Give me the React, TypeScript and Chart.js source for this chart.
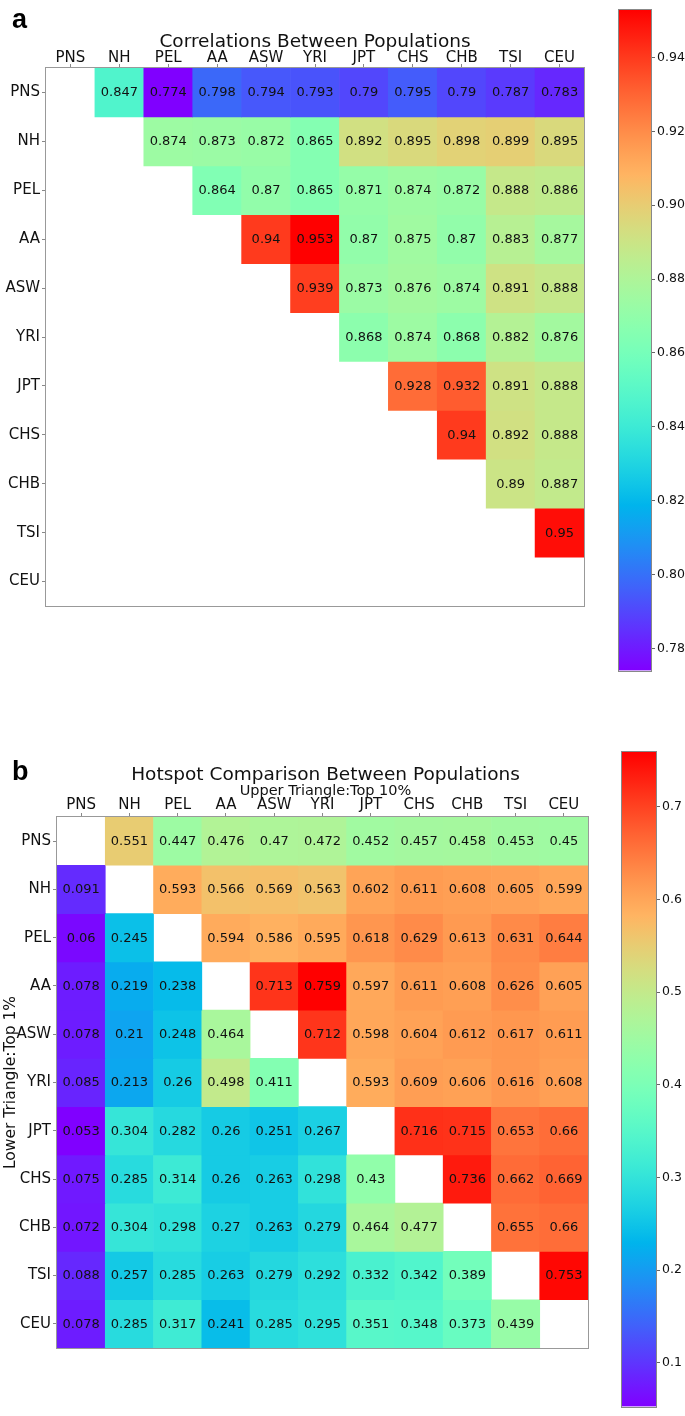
import React, { useEffect, useRef } from "react";
import { Chart, registerables } from "chart.js";
Chart.register(...registerables);

// ---------- data ----------
const populations = ["PNS", "NH", "PEL", "AA", "ASW", "YRI", "JPT", "CHS", "CHB", "TSI", "CEU"];

// Panel a: correlations (upper triangle only)
const corrPNS = [null, 0.847, 0.774, 0.798, 0.794, 0.793, 0.79, 0.795, 0.79, 0.787, 0.783];
const corrNH = [null, null, 0.874, 0.873, 0.872, 0.865, 0.892, 0.895, 0.898, 0.899, 0.895];
const corrPEL = [null, null, null, 0.864, 0.87, 0.865, 0.871, 0.874, 0.872, 0.888, 0.886];
const corrAA = [null, null, null, null, 0.94, 0.953, 0.87, 0.875, 0.87, 0.883, 0.877];
const corrASW = [null, null, null, null, null, 0.939, 0.873, 0.876, 0.874, 0.891, 0.888];
const corrYRI = [null, null, null, null, null, null, 0.868, 0.874, 0.868, 0.882, 0.876];
const corrJPT = [null, null, null, null, null, null, null, 0.928, 0.932, 0.891, 0.888];
const corrCHS = [null, null, null, null, null, null, null, null, 0.94, 0.892, 0.888];
const corrCHB = [null, null, null, null, null, null, null, null, null, 0.89, 0.887];
const corrTSI = [null, null, null, null, null, null, null, null, null, null, 0.95];
const corrCEU = [null, null, null, null, null, null, null, null, null, null, null];
const corrMatrix = [corrPNS, corrNH, corrPEL, corrAA, corrASW, corrYRI, corrJPT, corrCHS, corrCHB, corrTSI, corrCEU];

// Panel b: hotspot comparison (upper: top 10%, lower: top 1%)
const hotPNS = [null, 0.551, 0.447, 0.476, 0.47, 0.472, 0.452, 0.457, 0.458, 0.453, 0.45];
const hotNH = [0.091, null, 0.593, 0.566, 0.569, 0.563, 0.602, 0.611, 0.608, 0.605, 0.599];
const hotPEL = [0.06, 0.245, null, 0.594, 0.586, 0.595, 0.618, 0.629, 0.613, 0.631, 0.644];
const hotAA = [0.078, 0.219, 0.238, null, 0.713, 0.759, 0.597, 0.611, 0.608, 0.626, 0.605];
const hotASW = [0.078, 0.21, 0.248, 0.464, null, 0.712, 0.598, 0.604, 0.612, 0.617, 0.611];
const hotYRI = [0.085, 0.213, 0.26, 0.498, 0.411, null, 0.593, 0.609, 0.606, 0.616, 0.608];
const hotJPT = [0.053, 0.304, 0.282, 0.26, 0.251, 0.267, null, 0.716, 0.715, 0.653, 0.66];
const hotCHS = [0.075, 0.285, 0.314, 0.26, 0.263, 0.298, 0.43, null, 0.736, 0.662, 0.669];
const hotCHB = [0.072, 0.304, 0.298, 0.27, 0.263, 0.279, 0.464, 0.477, null, 0.655, 0.66];
const hotTSI = [0.088, 0.257, 0.285, 0.263, 0.279, 0.292, 0.332, 0.342, 0.389, null, 0.753];
const hotCEU = [0.078, 0.285, 0.317, 0.241, 0.285, 0.295, 0.351, 0.348, 0.373, 0.439, null];
const hotMatrix = [hotPNS, hotNH, hotPEL, hotAA, hotASW, hotYRI, hotJPT, hotCHS, hotCHB, hotTSI, hotCEU];

const cbTicksA = [0.78, 0.8, 0.82, 0.84, 0.86, 0.88, 0.9, 0.92, 0.94];
const cbTicksB = [0.1, 0.2, 0.3, 0.4, 0.5, 0.6, 0.7];

// ---------- helpers ----------
const FONT = '"DejaVu Sans", sans-serif';

function rainbow(t: number): string {
  const x = Math.max(0, Math.min(1, t));
  const r = Math.min(1, Math.abs(2 * x - 0.5));
  const g = Math.sin(Math.PI * x);
  const b = Math.cos((Math.PI * x) / 2);
  return `rgb(${Math.round(r * 255)},${Math.round(g * 255)},${Math.round(b * 255)})`;
}

function range(matrix: (number | null)[][]) {
  const flat = matrix.flat().filter((v) => v != null) as number[];
  return [Math.min(...flat), Math.max(...flat)];
}

type HeatProps = {
  matrix: (number | null)[][];
  letter: string;
  title: string;
  subtitle?: string;
  yTitle?: string;
  left: number;
  top: number;
  width: number;
  height: number;
  pad: { left: number; top: number; right: number; bottom: number };
  yW: number;
  xH: number;
  xPad: number;
  titleOffset: number;
  subOffset?: number;
  letterY: number;
  titleShift: number;
};

function Heatmap(p: HeatProps) {
  const ref = useRef<HTMLCanvasElement>(null);
  useEffect(() => {
    const [vmin, vmax] = range(p.matrix);
    const n = populations.length;
    const datasets = p.matrix.map((row, r) => ({
      label: populations[r],
      data: row.map((v) => (v == null ? null : [r, r + 1])),
      values: row,
      backgroundColor: row.map((v) => (v == null ? "rgba(0,0,0,0)" : rainbow((v - vmin) / (vmax - vmin)))),
      borderWidth: 0,
      barPercentage: 1,
      categoryPercentage: 1,
      grouped: false,
    }));
    const overlay = {
      id: "overlay",
      afterDatasetsDraw(chart: any) {
        const ctx = chart.ctx;
        ctx.save();
        ctx.font = `13px ${FONT}`;
        ctx.textAlign = "center";
        ctx.textBaseline = "middle";
        ctx.fillStyle = "#111";
        chart.data.datasets.forEach((ds: any, di: number) => {
          const meta = chart.getDatasetMeta(di);
          meta.data.forEach((el: any, i: number) => {
            const v = ds.values[i];
            if (v == null) return;
            const { x, y, base } = el.getProps(["x", "y", "base"], true);
            ctx.fillText(String(v), x, (y + base) / 2 + 0.5);
          });
        });
        const ca = chart.chartArea;
        ctx.strokeStyle = "#999";
        ctx.lineWidth = 1;
        ctx.strokeRect(Math.round(ca.left) - 0.5, Math.round(ca.top) - 0.5, Math.round(ca.right - ca.left) + 1, Math.round(ca.bottom - ca.top) + 1);
        const cx = (ca.left + ca.right) / 2 + p.titleShift;
        ctx.fillStyle = "#111";
        ctx.textBaseline = "alphabetic";
        ctx.font = `18.5px ${FONT}`;
        ctx.fillText(p.title, cx, ca.top - p.titleOffset);
        if (p.subtitle) {
          ctx.font = `14.5px ${FONT}`;
          ctx.fillText(p.subtitle, cx, ca.top - (p.subOffset || 0));
        }
        ctx.textAlign = "left";
        ctx.fillStyle = "#000";
        ctx.font = `bold 27px "Liberation Sans", Arial, sans-serif`;
        ctx.fillText(p.letter, 12, p.letterY);
        ctx.restore();
      },
    };
    const chart = new Chart(ref.current!, {
      type: "bar",
      data: { labels: populations, datasets: datasets as any },
      plugins: [overlay],
      options: {
        animation: false,
        responsive: false,
        devicePixelRatio: 1,
        layout: { padding: p.pad },
        plugins: { legend: { display: false }, tooltip: { enabled: false } },
        scales: {
          x: {
            type: "category",
            position: "top",
            offset: true,
            grid: { offset: false, drawOnChartArea: false, drawTicks: true, tickLength: 4, color: "#888" },
            border: { display: false },
            ticks: { font: { family: FONT, size: 15 }, color: "#111", maxRotation: 0, autoSkip: false, padding: p.xPad },
            afterFit: (s: any) => {
              s.height = p.xH;
            },
          },
          y: {
            type: "linear",
            min: 0,
            max: n,
            reverse: true,
            afterBuildTicks: (s: any) => {
              s.ticks = populations.map((_, i) => ({ value: i + 0.5 }));
            },
            ticks: {
              font: { family: FONT, size: 15 },
              color: "#111",
              autoSkip: false,
              padding: 2,
              callback: (_v: any, i: number) => populations[i],
            },
            grid: { drawOnChartArea: false, drawTicks: true, tickLength: 4, color: "#888" },
            border: { display: false },
            title: p.yTitle
              ? { display: true, text: p.yTitle, font: { family: FONT, size: 15.5 }, color: "#111", padding: { top: 2, bottom: 0 } }
              : { display: false },
            afterFit: (s: any) => {
              s.width = p.yW;
            },
          },
        },
      } as any,
    });
    return () => chart.destroy();
  }, []);
  return (
    <canvas
      ref={ref}
      width={p.width}
      height={p.height}
      style={{ position: "absolute", left: p.left, top: p.top, width: p.width, height: p.height }}
    />
  );
}

type CbProps = {
  matrix: (number | null)[][];
  ticks: number[];
  decimals: number;
  left: number;
  top: number;
  width: number;
  height: number;
  pad: { left: number; top: number; right: number; bottom: number };
  axisW: number;
};

function Colorbar(p: CbProps) {
  const ref = useRef<HTMLCanvasElement>(null);
  useEffect(() => {
    const [vmin, vmax] = range(p.matrix);
    const outline = {
      id: "outline",
      afterDatasetsDraw(chart: any) {
        const ca = chart.chartArea;
        const ctx = chart.ctx;
        ctx.save();
        ctx.strokeStyle = "#888";
        ctx.lineWidth = 1;
        ctx.strokeRect(Math.round(ca.left) - 0.5, Math.round(ca.top) - 0.5, Math.round(ca.right - ca.left) + 1, Math.round(ca.bottom - ca.top) + 1);
        ctx.restore();
      },
    };
    const chart = new Chart(ref.current!, {
      type: "bar",
      data: {
        labels: [""],
        datasets: [
          {
            data: [[vmin, vmax]],
            borderWidth: 0,
            barPercentage: 1,
            categoryPercentage: 1,
            backgroundColor: (c: any) => {
              const ch = c.chart;
              const ys = ch.scales.y;
              if (!ys || !ch.chartArea) return "rgba(0,0,0,0)";
              const y0 = ys.getPixelForValue(vmin);
              const y1 = ys.getPixelForValue(vmax);
              const g = ch.ctx.createLinearGradient(0, y0, 0, y1);
              for (let k = 0; k <= 64; k++) g.addColorStop(k / 64, rainbow(k / 64));
              return g;
            },
          },
        ],
      },
      plugins: [outline],
      options: {
        animation: false,
        responsive: false,
        devicePixelRatio: 1,
        layout: { padding: p.pad },
        plugins: { legend: { display: false }, tooltip: { enabled: false } },
        scales: {
          x: { display: false },
          y: {
            position: "right",
            min: vmin,
            max: vmax,
            afterBuildTicks: (s: any) => {
              s.ticks = p.ticks.map((v) => ({ value: v }));
            },
            ticks: {
              font: { family: FONT, size: 12.5 },
              color: "#111",
              padding: 2,
              autoSkip: false,
              callback: (v: any) => Number(v).toFixed(p.decimals),
            },
            grid: { drawOnChartArea: false, drawTicks: true, tickLength: 4, color: "#666" },
            border: { display: false },
            afterFit: (s: any) => {
              s.width = p.axisW;
            },
          },
        },
      } as any,
    });
    return () => chart.destroy();
  }, []);
  return (
    <canvas
      ref={ref}
      width={p.width}
      height={p.height}
      style={{ position: "absolute", left: p.left, top: p.top, width: p.width, height: p.height }}
    />
  );
}

export default function App() {
  return (
    <div style={{ position: "absolute", left: 0, top: 0, width: 685, height: 1416, background: "#fff", overflow: "hidden" }}>
      <Heatmap
        matrix={corrMatrix}
        letter="a"
        title="Correlations Between Populations"
        left={0}
        top={0}
        width={600}
        height={620}
        pad={{ left: 0, top: 44, right: 16, bottom: 14 }}
        yW={46}
        xH={24}
        xPad={-3}
        titleOffset={21}
        letterY={28}
        titleShift={0}
      />
      <Colorbar
        matrix={corrMatrix}
        ticks={cbTicksA}
        decimals={2}
        left={600}
        top={0}
        width={85}
        height={680}
        pad={{ left: 19, top: 4, right: 0, bottom: 8 }}
        axisW={34}
      />
      <Heatmap
        matrix={hotMatrix}
        letter="b"
        title="Hotspot Comparison Between Populations"
        subtitle="Upper Triangle:Top 10%"
        yTitle="Lower Triangle:Top 1%"
        left={0}
        top={740}
        width={600}
        height={676}
        pad={{ left: 0, top: 53, right: 12, bottom: 68 }}
        yW={57}
        xH={24}
        xPad={-1.5}
        titleOffset={37}
        subOffset={22}
        letterY={40}
        titleShift={3}
      />
      <Colorbar
        matrix={hotMatrix}
        ticks={cbTicksB}
        decimals={1}
        left={600}
        top={740}
        width={85}
        height={676}
        pad={{ left: 22, top: 12, right: 0, bottom: 4 }}
        axisW={29}
      />
    </div>
  );
}
